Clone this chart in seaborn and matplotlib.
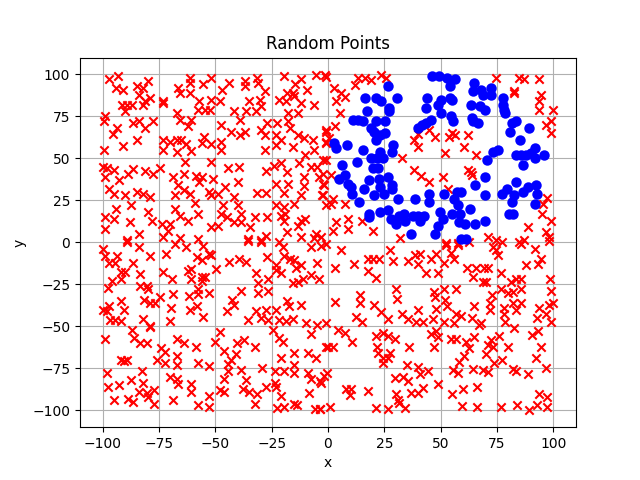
import matplotlib
matplotlib.use('Agg')
import matplotlib.pyplot as plt
import seaborn as sns

# Points, (x, y)
blue_right = [(46,99),(49.4,99),(52.7,98),(56.5,97),(54,93),(64.6,95),(72.3,92),(64.2,90),(68,91),(68.6,88),
    (72.3,88),(77.4,86),(77.4,82),(78,79),(78.3,77),(63.4,82),(67.6,81),(69.6,79),(43.8,86),(43.4,80),
    (54,86),(55,85),(50,85),(49,82),(50,77),(54.6,75),(55.3,72),(45.7,73),(43.5,71),(41.7,70),(40,68),
    (64,74),(64.4,72),(66.5,71),(81.6,71),(83.3,72),(80.7,66),(89,68),(85,61),(75.5,55),(73,54),(70.4,49),
    (83.3,52),(85.5,52),(88,52),(90,53),(91.7,56),(91.7,50),(96,52),(86.7,46),(69.5,39),(65,34),(69.5,28),
    (83.3,36),(79.4,32),(77,29),(82.3,28),(81.4,24),(86.3,30),(88.8,33),(92.2,34),(92.5,29),(91.7,23),
    (80.4,17),(82,17)]
blue_left = [(16.5,86),(21.4,86),(23.3,84),(26.7,93),(30.5,86),(27,80),(27,78),(17.4,78),(11,73),(13.3,73),
    (15.5,72),(21.4,72),(25.4,72),(19.2,68),(20.6,66),(25.4,65),(21.4,61),(23,64),(2.5,59),(3.4,56),(8.6,58),
    (15.5,55),(28.8,58),(28.3,54),(23,54),(19.2,50),(13,48),(6.2,46),(21.7,50),(24.3,50),(20,44),(22,44),
    (7.4,40),(4.7,38),(8.9,35),(10.3,33),(10.6,29),(16,32),(18.4,37),(22.6,38),(26.8,39),(28.3,34),(28.3,32),
    (22.9,33),(20.6,28),(25,29),(13.7,24),(31,26),(38.6,26),(44.7,29),(44.7,24),(51.3,29),(56,26),(59,30),
    (57,30),(57.5,22),(63,20),(18.4,17),(18.4,15),(23,18),(26.5,19),(28,14),(30,11),(31.7,16),(33.5,17),
    (34,13),(37.6,16),(40,16),(40.6,13),(42.8,16),(49.7,18),(51,14),(49,10),(47.5,5),(36.7,5),(55,17),
    (58.6,17),(58.3,12),(60.8,11),(65,11),(69.5,13),(59,2),(61,2)]

red_upper_right = [(74.5,98),(84.8,98),(87,97),(93.4,97),(82.3,90),(82.6,89),(94.4,88),(93.6,84),(93.6,79),
    (99.6,79),(96.6,70),(98.8,72),(98.8,65),(45,67),(40,64.5),(38.3,61),(40,57),(47.6,62.5),(53.8,62.5),
    (55,65),(56.5,64),(62,64),(60.5,56.5),(52,53),(65.6,52),(33,50),(38,43),(41.3,39.5),(45,36),(51,39),
    (53.4,32),(63.4,42),(62,43),(64,40),(97,26.5),(95.4,23),(94.7,17),(88.5,9),(99,13),(96.6,6),(98,3),
    (70.8,3),(74.5,1.4),(77,0.4),(84.8,0.4),(87,1.4),(52.4,-0.6),(57.5,-0.6),(62.7,0.4),(32,2.4),(20,7),
    (15,13),(8.8,8),(8.8,14),(3.7,12),(2.2,6.5),(7.4,23),(1.5,23),(2.9,69),(-0.7,66),(0.4,62),(-0.7,59),
    (13.3,98),(16.2,98),(19.2,96.6),(23.6,99.6),(25.8,98),(11.8,93.6),(2.7,92),(5.9,88.7),(7.4,86.7),
    (3.7,84),(5.2,77),(-1.5,99.6),(-2.2,49),(-0.7,49),(-2.2,41),(-2.2,35),(-2.2,28),(1.5,40),(2.2,26)]

red_upper_left = [(-97,97),(-93,99),(-94,92),(-91,91),(-84.6,93),(-80,96),(-82,92),(-83.7,88),(-79,86),
    (-91.5,82),(-89,82),(-87,82),(-90,78),(-82,82),(-81,84),(-73,84),(-73,83),(-66.5,92),(-65.7,89),(-61,98),
    (-61,95),(-55.4,94),(-52,98),(-61,89),(-57,84),(-52,85),(-57.6,79),(-54.6,79),(-52.5,79),(-67,77),
    (-47,91),(-48,84),(-43.7,95),(-37,96),(-37,93),(-31.5,98),(-31,95),(-28,90),(-35,84),(-30,85),(-29.7,81),
    (-41.5,78),(-36.3,78),(-32,78),(-19.7,99),(-12,97),(-5.4,99.6),(-14.7,94),(-9.4,91),(-18,89),(-15.6,89),
    (-15,87),(-21.6,85),(-18.7,84),(-12,83),(-6.2,82),(-17.6,77),(-13.5,77),(-1.1,98.6),
    (-99,75),(-99.3,72),(-93.7,68),(-95.4,64.5),(-91,57.5),(-84.6,61),(-86.3,71),(-84,72.4),(-81,68),
    (-77.8,72.4),(-99.5,55),(-73,61),(-73,55),(-70,60),(-67,61),(-65,61),(-67,54),(-62.8,58.5),(-60.6,54.6),
    (-56,59),(-55,63),(-52,58.5),(-65.7,73),(-60.6,73),(-62,69),(-47.6,70),(-47.6,60),(-47.6,55),(-43,66),
    (-39,73),(-39,64),(-37,66),(-29.7,67),(-28,64),(-28,55),(-27,71),(-22.4,71),(-17.6,72),(-16.8,68),
    (-23,64),(-21,61),(-23,58),(-15.7,56.5),(-13.5,64),(-10.6,62),(-6.5,61),(-6.2,55),(-10,52),(-1,67),(-1,60),
    (-99.6,45),(-98,44),(-95,43),(-99,39),(-92.7,37),(-88.8,41),(-86.6,43.6),(-81,42.5),(-77.5,40.5),
    (-74.6,44.5),(-97,32),(-95,29),(-90,28),(-84.6,30),(-82,29),(-79,27),(-68.7,38.7),(-64,41),(-66.5,34),
    (-64,31),(-68,28),(-61.3,28.6),(-58.4,39.7),(-56,39),(-57,36),(-53,30),(-52,28),(-51,38),(-63.5,48),
    (-52,48),(-44.4,44),(-39.3,44.6),(-40,36),(-45.6,33),(-49,28.6),(-41.5,27),(-31.6,29.6),(-27.5,29.6),
    (-27.5,42.7),(-23.8,45.4),(-21,47.4),(-18.4,42),(-23,35),(-17.6,34.7),(-19.4,29.6),(-10.6,39),(-10.6,33.5),
    (-12,28),(-7.6,45),(-4.7,45),(-4,39),(-1.8,34),(-2.5,28),(-12.8,47),
    (-99,15),(-94,20),(-95,14),(-87.5,22),(-99,8),(-88,12),(-84,5),(-89,1.4),(-80,18),(-78,13),(-68,20),
    (-65.7,16),(-62,13),(-57.6,17),(-59,23.6),(-70,11),(-73.5,11),(-71,7),(-73,3),(-65.7,2.4),(-57.6,2),(-52,9),
    (-46.6,22),(-40,22),(-47.4,17),(-45,15),(-38.5,17),(-41.5,12),(-38.5,12),(-49,10),(-32.4,15),(-27,15),
    (-34.4,9),(-35.6,2),(-29.7,1.4),(-27.5,3.8),(-23,22),(-19.4,21),(-15,23),(-21,16),(-19,17),(-19.7,13),
    (-12,13),(-10,14),(-13.5,10),(-18.4,6),(-12,3),(-5.4,5),(-3,3),(-6,2.4),(-21.6,0.4),(-1,22)]

red_lower_left = [(-99.6,-4),(-99,-8),(-97,-12),(-93.7,-8),(-94.4,-12),(-86.6,-12),(-84,-3),(-79,-8),(-89,0),
    (-92,-17.5),(-90,-17.5),(-92,-21.5),(-83.4,-19),(-96,-23),(-72,-7),(-73,-17.5),(-69,-21.5),(-68,-1),(-63,-3),
    (-55.4,-2.4),(-58,-8.7),(-56,-10.6),(-53,-7),(-52,-7.7),(-62,-17),(-60.6,-16),(-60.6,-22),(-56,-20.5),
    (-54.6,-20.5),(-56,-23),(-49.6,-16),(-43.7,-11.6),(-39.3,-10),(-36.3,-11.6),(-27,-8.7),(-32,-18.5),(-31,-24),
    (-26.8,-21.5),(-29.7,0),(-35.6,1),(-20,-3),(-19.7,-8),(-23,-13.6),(-23,-16.5),(-21,-18.5),(-17,-9.6),
    (-15,-10.6),(-12,-13.6),(-14,-15.5),(-7.6,-2.8),(-3.2,-2.4),(-1,-1),(-5,-12),(-7.6,-19.5),(-4,-21.5),
    (-13.5,-23.4),(-11.3,-22),(-15.7,-24),
    (-97.6,-27),(-99.6,-40),(-97.3,-38),(-98,-41),(-92,-35),(-90.3,-40),(-96.6,-46),(-94.4,-46),(-92,-47),
    (-82,-45.5),(-79,-50),(-83.4,-26),(-80.4,-26),(-79.7,-28),(-81.5,-34),(-79,-36),(-76.8,-36),(-74.6,-32.7),
    (-68.7,-31),(-69.7,-38.8),(-70,-46.6),(-61.8,-32),(-57.6,-28),(-57.6,-31),(-58,-38),(-61.3,-40),(-55.4,-44.5),
    (-53,-30),(-44.7,-40.7),(-42.6,-34),(-38.5,-29),(-41.5,-37),(-31,-30),(-26.8,-29),(-35.3,-46),(-32,-41),
    (-29.7,-45),(-27.5,-40.5),(-26.8,-46),(-23,-40),(-18,-34.6),(-17.3,-38),(-12,-37),(-21.6,-46),(-18.7,-46.6),
    (-15.7,-45.5),(-9.9,-48),(-4.7,-49),(-1,-48),
    (-99,-57.5),(-87,-52),(-86,-57),(-83.4,-60),(-80.4,-60),(-92,-70),(-89,-70),(-90.7,-70.7),(-79,-50.6),
    (-67,-57.5),(-64,-60),(-58.4,-62),(-74,-63),(-72.4,-65.4),(-67,-67.7),(-72.4,-71.6),(-76,-70),(-67,-73),
    (-57.6,-71.6),(-52.7,-73.6),(-50.3,-59),(-48,-53.5),(-46.3,-64.8),(-40.4,-60),(-37.4,-58),(-32.4,-62),
    (-40.7,-66.7),(-43,-70),(-44.4,-72.6),(-29.3,-74.6),(-24.6,-52),(-21.6,-57),(-19.9,-59),(-7.6,-54.5),
    (-1,-62),(-21,-68.7),(-15,-66),(-8.8,-66),(-5.4,-69),(-15,-73),
    (-98,-77.6),(-82.6,-76.6),(-97.6,-85.8),(-92.5,-85),(-87.5,-82),(-82,-83.5),(-94.7,-94),(-88.5,-93),(-86.3,-95),
    (-84,-89),(-80.4,-89.4),(-77,-88),(-79.7,-92),(-77,-96),(-70,-80),(-67,-81.5),(-66.5,-84.4),(-60.6,-84),
    (-60.6,-89),(-68.7,-94),(-57.6,-97),(-53,-91.7),(-52.7,-98),(-46,-81.5),(-44.4,-76.6),(-38.5,-76),(-48,-88),
    (-46,-89),(-36.3,-82),(-37.8,-87.4),(-35,-89),(-31.5,-90),(-27.5,-86),(-32.4,-96),(-23.5,-76.6),(-23.5,-83.5),
    (-23,-85.8),(-21,-91.7),(-19.4,-76.6),(-15.3,-78),(-9,-77.6),(-7.6,-81.5),(-3.5,-82.5),(-1.8,-79.5),(-8.4,-89.4),
    (-22.4,-98.8),(-19.4,-98),(-15,-96),(-13.6,-97),(-5.9,-99),(-3.5,-99)]

red_lower_right = [(5.9,-4.7),(2.9,-15),(11.5,-13),(17.7,-10),(19.9,-10),(22.4,-10),(17.7,-17),(21.4,-21),(27.7,-4.3),
    (28.8,-11),(35.4,-11),(38.4,-7.7),(40.6,-6.7),(40,-13),(43.5,-18.5),(45.7,-9.6),(48,-6.7),(51.6,-12),(48.7,-18.5),
    (54.6,-6.3),(56,-9.6),(52.4,-1.8),(57.5,-1.8),(61.7,-15.5),(64.2,-20.5),(65.6,-15.5),(69.3,-15.5),(70.8,-15.5),
    (68.6,-23.4),(70,-23.4),(73,-2.8),(75.2,-7.7),(76.7,-18.5),(83.3,-21.5),(85.5,-22),(81,-23.4),(85.5,-0.8),
    (91.7,-3.7),(94.4,-9.6),(93,-12.6),(88,-13.6),(98.5,-21.5),(98,1),(74.5,-4.7),
    (2.9,-35.6),(14.3,-31.3),(14.3,-36),(20.4,-37),(23.6,-41.7),(12.5,-44.5),(15,-47.6),(26.8,-45.5),(30.2,-28),
    (30.5,-33.7),(33,-42.5),(35.4,-45.7),(39.8,-40.5),(39,-47.6),(42,-47.6),(46.5,-45.5),(48,-39.8),(47.5,-32.3),
    (47.2,-29.3),(51.6,-28),(56.8,-28),(52,-34.3),(52.7,-37.6),(56.8,-42.5),(59,-43.7),(64.6,-37.6),(63.9,-45),
    (67.8,-48),(51.6,-47.6),(56,-48),(71.8,-40),(71.8,-36),(72.7,-31.3),(76.7,-28),(79.7,-30.3),(81.9,-29.3),
    (85.5,-28),(81.9,-36),(78.2,-39),(78.2,-42.5),(83.3,-40),(85.5,-36),(78.6,-47.6),(93.7,-39),(92.9,-45),
    (96.6,-42.5),(98,-37),(100,-36),(98.8,-29),(98.8,-47.6),
    (4.4,-52.4),(7.4,-54),(10.6,-59),(0,-62),(2.2,-62),(21.4,-55.5),(24.6,-54),(26.5,-56),(29.5,-57.5),(21.7,-62),
    (22,-66),(27.3,-66),(24.3,-68.7),(26.5,-68.7),(24.3,-71.6),(36,-62.4),(45.7,-54.5),(48,-53),(48.7,-56.3),
    (47,-62),(54.6,-57.3),(56.8,-57.3),(61.2,-59),(64.6,-56.3),(62.7,-62.8),(60.5,-67.7),(58,-71),(70,-66.7),
    (70.8,-60.8),(72.3,-58),(73,-62),(76,-56),(80,-62),(77,-70),(73.7,-71.6),(82.6,-51),(90.7,-55),(93,-53),
    (94.4,-62),(92.2,-68.7),(67,-49),
    (35,-73),(39.8,-74),(40.6,-78.5),(44.2,-76.6),(29.5,-81),(33.2,-80),(35.4,-82.5),(49,-84),(-3,-83.5),(-0.4,-77.6),
    (7.8,-87),(10.3,-87),(9.9,-91),(17.7,-88.4),(30.2,-90.4),(31,-94),(36.9,-89.4),(40,-89.8),(42.3,-86.4),
    (31.7,-95.7),(34,-98.8),(21.4,-98.8),(26.8,-99),(0.7,-98),(-3.7,-99),(55.3,-76),(57.5,-78),(64.2,-75.6),
    (68.9,-76),(71,-77),(82,-75.6),(83.3,-76.6),(88.5,-78.5),(96.6,-74.6),(54.9,-90),(59.7,-87),(66,-85.8),
    (59.3,-97.6),(66,-98),(76.7,-98),(84,-96.7),(89,-99.6),(92.5,-96.7),(93.4,-90.4),(97.3,-92.3),(97,-98)]

blue_x, blue_y = zip(*(blue_right + blue_left))
red_x, red_y = zip(*(red_upper_right + red_upper_left + red_lower_left + red_lower_right))

fig, ax = plt.subplots(figsize=(6.4, 4.8), dpi=100)

sns.scatterplot(x=list(red_x), y=list(red_y), color='red', marker='x', s=36, linewidth=1.5, zorder=2, ax=ax)
sns.scatterplot(x=list(blue_x), y=list(blue_y), color='blue', marker='o', s=36,
                edgecolor='blue', linewidth=1.5, zorder=2, ax=ax)

ax.set_xlim(-110, 110)
ax.set_ylim(-110, 110)
ax.set_title('Random Points')
ax.set_xlabel('x')
ax.set_ylabel('y')
ax.grid(True)

plt.savefig('out.png', dpi=100)
plt.close()
